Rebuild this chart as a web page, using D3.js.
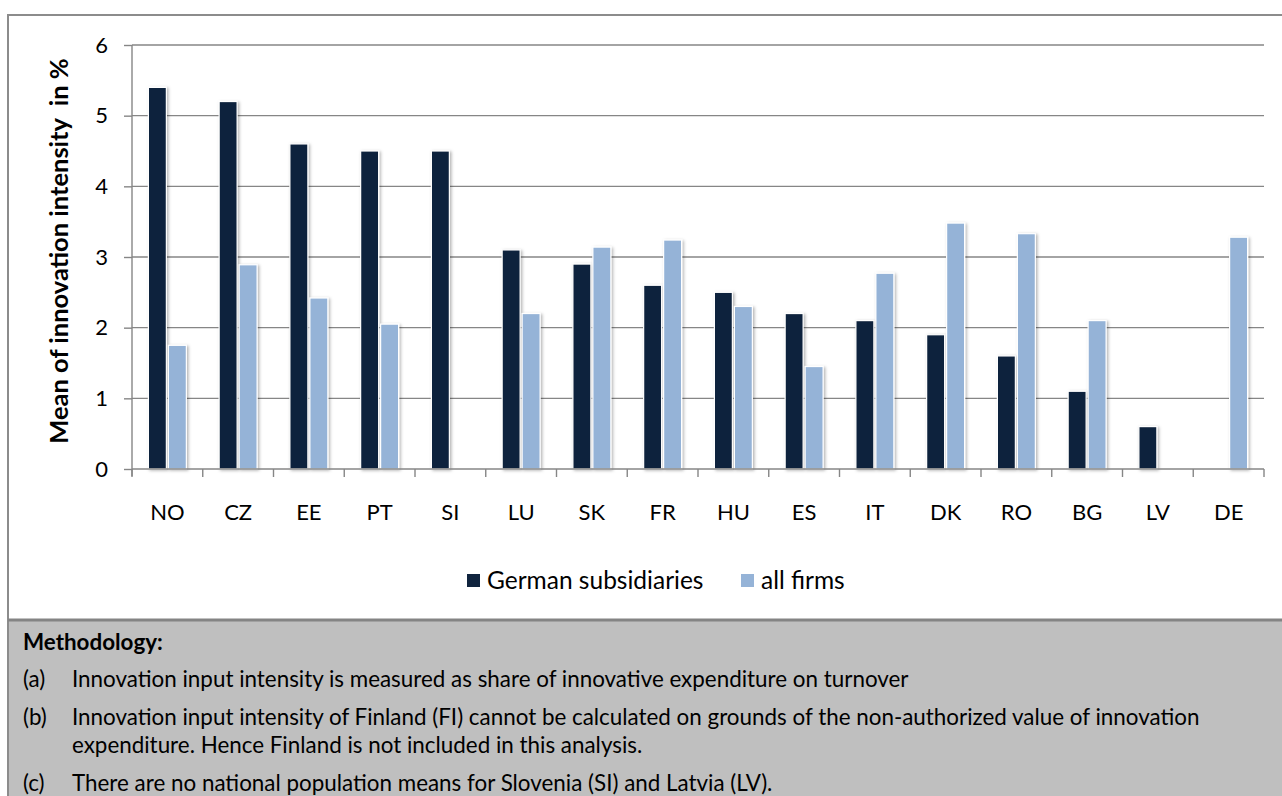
<!DOCTYPE html>
<html>
<head>
<meta charset="utf-8">
<script src="https://cdn.jsdelivr.net/npm/d3@7"></script>
<style>
  html, body { margin: 0; padding: 0; background: #ffffff; }
  svg { display: block; }
  text { font-family: Lato, "Open Sans", sans-serif; fill: #000; }
</style>
</head>
<body>
<svg id="chart" width="1282" height="796"></svg>
<script>
// Mean innovation intensity (%) by country
const categories = ["NO","CZ","EE","PT","SI","LU","SK","FR","HU","ES","IT","DK","RO","BG","LV","DE"];
const germanSubsidiaries = [5.4, 5.2, 4.6, 4.5, 4.5, 3.1, 2.9, 2.6, 2.5, 2.2, 2.1, 1.9, 1.6, 1.1, 0.6, null];
const allFirms = [1.75, 2.89, 2.42, 2.05, null, 2.2, 3.14, 3.24, 2.3, 1.45, 2.77, 3.48, 3.33, 2.1, null, 3.28];
const seriesNames = ["German subsidiaries", "all firms"];
const seriesColors = ["#10243e", "#95b3d7"];
const yTicks = [0, 1, 2, 3, 4, 5, 6];
const axisTitle = "Mean of innovation intensity  in %";
const noteHeading = "Methodology:";
const notes = [
  ["(a)", ["Innovation input intensity is measured as share of innovative expenditure on turnover"]],
  ["(b)", ["Innovation input intensity of Finland (FI) cannot be calculated on grounds of the non-authorized value of innovation",
           "expenditure. Hence Finland is not included in this analysis."]],
  ["(c)", ["There are no national population means for Slovenia (SI) and Latvia (LV)."]]
];

const svg = d3.select("#chart");
const W = 1282, H = 796;
const plot = { left: 132, right: 1264, top: 45, bottom: 469 };
const gridColor = "#868686";

// drop shadow for bars
const defs = svg.append("defs");
const f = defs.append("filter").attr("id", "barShadow")
  .attr("x", "-30%").attr("y", "-10%").attr("width", "160%").attr("height", "130%");
f.append("feDropShadow").attr("dx", 1.5).attr("dy", 1).attr("stdDeviation", 1.6)
  .attr("flood-color", "#000").attr("flood-opacity", 0.3);

// outer chart frame
svg.append("rect").attr("x", 8).attr("y", 15).attr("width", W + 20).attr("height", 605)
  .attr("fill", "#fff").attr("stroke", "#8c8c8c").attr("stroke-width", 2);

// notes panel
svg.append("rect").attr("x", 8).attr("y", 620).attr("width", W + 20).attr("height", 200)
  .attr("fill", "#bfbfbf").attr("stroke", "#8c8c8c").attr("stroke-width", 2);
svg.append("line").attr("x1", 8).attr("x2", W).attr("y1", 620).attr("y2", 620)
  .attr("stroke", "#848484").attr("stroke-width", 3);

const x0 = d3.scaleBand().domain(categories).range([plot.left, plot.right]).padding(0);
const x1 = d3.scaleBand().domain(seriesNames).range([0, x0.bandwidth()])
  .paddingInner(0.1).paddingOuter(0.82);
const y = d3.scaleLinear().domain([0, 6]).range([plot.bottom, plot.top]);

// horizontal gridlines
svg.append("g").selectAll("line").data(yTicks.filter(d => d > 0)).join("line")
  .attr("x1", plot.left).attr("x2", plot.right)
  .attr("y1", d => y(d)).attr("y2", d => y(d))
  .attr("stroke", gridColor).attr("stroke-width", 1.4);

// y axis
const yAxis = d3.axisLeft(y).tickValues(yTicks).tickSize(8).tickPadding(16).tickFormat(d3.format("d"));
const gy = svg.append("g").attr("transform", `translate(${plot.left},0)`).call(yAxis);
gy.select(".domain").attr("stroke", gridColor).attr("stroke-width", 1.4)
  .attr("d", `M0,${plot.top}V${plot.bottom + 7}`);
gy.selectAll(".tick line").attr("stroke", gridColor).attr("stroke-width", 1.4);
gy.selectAll(".tick text").attr("font-size", 22).attr("font-family", "Lato").attr("fill", "#000");

// bars
const rows = categories.map((c, i) => ({ c, vals: [germanSubsidiaries[i], allFirms[i]] }));
const groups = svg.append("g").selectAll("g").data(rows).join("g")
  .attr("transform", d => `translate(${x0(d.c)},0)`);
groups.selectAll("rect")
  .data(d => d.vals.map((v, j) => ({ v, s: seriesNames[j], j })).filter(e => e.v != null))
  .join("rect")
  .attr("x", e => x1(e.s))
  .attr("width", x1.bandwidth())
  .attr("y", e => y(e.v))
  .attr("height", e => y(0) - y(e.v))
  .attr("fill", e => seriesColors[e.j])
  .attr("stroke", "#ffffff").attr("stroke-width", 1.2)
  .attr("filter", "url(#barShadow)");

// x axis with ticks between categories
const boundaries = categories.map(c => x0(c)).concat([plot.right]);
const gx = svg.append("g");
gx.append("line").attr("x1", plot.left).attr("x2", plot.right)
  .attr("y1", plot.bottom).attr("y2", plot.bottom)
  .attr("stroke", gridColor).attr("stroke-width", 1.4);
gx.selectAll("line.tk").data(boundaries).join("line").attr("class", "tk")
  .attr("x1", d => d).attr("x2", d => d)
  .attr("y1", plot.bottom).attr("y2", plot.bottom + 8)
  .attr("stroke", gridColor).attr("stroke-width", 1.4);
gx.selectAll("text").data(categories).join("text")
  .attr("x", d => x0(d) + x0.bandwidth() / 2)
  .attr("y", 520)
  .attr("text-anchor", "middle")
  .attr("font-size", 22)
  .text(d => d);

// y axis title
svg.append("text")
  .attr("transform", `translate(68,251) rotate(-90)`)
  .attr("text-anchor", "middle")
  .style("white-space", "pre")
  .attr("font-size", 25.5).attr("font-weight", "bold")
  .text(axisTitle);

// legend
const legend = svg.append("g");
const legendX = [467, 741];
seriesNames.forEach((name, i) => {
  legend.append("rect").attr("x", legendX[i]).attr("y", 574).attr("width", 13).attr("height", 13)
    .attr("fill", seriesColors[i]);
  legend.append("text").attr("x", legendX[i] + 20).attr("y", 589)
    .attr("font-size", 24.5).text(name);
});

// methodology notes
const noteSize = 22.4;
const notesG = svg.append("g");
notesG.append("text").attr("x", 23).attr("y", 650).attr("font-size", noteSize)
  .attr("font-weight", "bold").text(noteHeading);
const lineY = [[687], [725, 753], [791]];
notes.forEach(([label, lines], i) => {
  notesG.append("text").attr("x", 23).attr("y", lineY[i][0]).attr("font-size", noteSize).text(label);
  lines.forEach((ln, k) => {
    notesG.append("text").attr("x", 72).attr("y", lineY[i][k]).attr("font-size", noteSize).text(ln);
  });
});
</script>
</body>
</html>
